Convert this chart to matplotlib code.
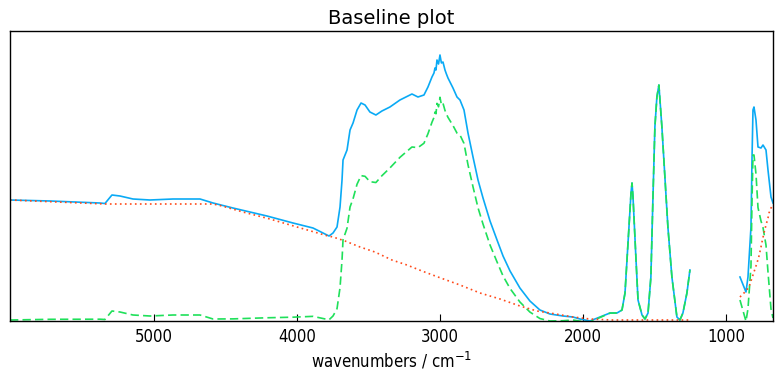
import numpy as np
import matplotlib
matplotlib.use("Agg")
import matplotlib.pyplot as plt

# Spectrum (absorbance, arbitrary units); NaN marks the gap
wn_spectrum = [6007, 5727, 5378, 5343, 5294, 5238, 5147, 5028, 4867, 4678, 4587, 4448, 4210, 4028, 3888,
               3776, 3748, 3720, 3699, 3685, 3678, 3664, 3650, 3629, 3608, 3580, 3552, 3524, 3490, 3448,
               3406, 3350, 3280, 3196, 3154, 3112, 3084, 3056, 3042, 3035, 3028, 3021, 3010, 3000, 2990,
               2979, 2965, 2955, 2944, 2930, 2909,
               2881, 2860, 2832, 2804, 2769, 2734, 2699, 2650, 2601, 2559, 2510, 2441, 2371, 2301, 2231,
               2140, 2070, 2021, 1951, 1881, 1811, 1762, 1727, 1706, 1685, 1664, 1657, 1650, 1629, 1615,
               1587, 1566, 1545, 1525, 1511, 1497, 1483, 1469, 1448, 1427, 1406, 1378, 1343, 1322, 1301,
               1273, 1252, 1100,
               902, 860, 846, 825, 818, 811, 804, 790, 776, 755, 741, 720, 706, 685, 671]
absorbance = [1.20, 1.19, 1.17, 1.165, 1.25, 1.24, 1.21, 1.20, 1.21, 1.21, 1.17, 1.12, 1.04, 0.97, 0.92,
              0.84, 0.87, 0.93, 1.13, 1.40, 1.60, 1.65, 1.70, 1.90, 1.97, 2.10, 2.17, 2.15, 2.08, 2.05,
              2.09, 2.13, 2.20, 2.26, 2.23, 2.25, 2.33, 2.43, 2.47, 2.52, 2.50, 2.60, 2.56, 2.65, 2.57,
              2.58, 2.50, 2.46, 2.42, 2.38, 2.32,
              2.23, 2.20, 2.10, 1.87, 1.63, 1.40, 1.22, 0.99, 0.80, 0.64, 0.49, 0.32, 0.19, 0.10, 0.06,
              0.04, 0.03, 0.01, -0.01, 0.03, 0.07, 0.07, 0.10, 0.27, 0.77, 1.27, 1.37, 1.23, 0.60, 0.20,
              0.05, 0.01, 0.07, 0.43, 1.20, 1.93, 2.23, 2.35, 1.93, 1.43, 0.93, 0.43, 0.03, 0.00, 0.07,
              0.27, 0.50, np.nan,
              0.43, 0.28, 0.43, 0.93, 1.60, 2.10, 2.13, 2.00, 1.73, 1.72, 1.75, 1.70, 1.50, 1.23, 1.17]

# Fitted baseline
wn_baseline = [6007, 5343, 4587, 4524, 4378, 4189, 4000, 3783, 3748, 3664, 3559, 3455, 3336, 3231, 3126,
               3014, 2860, 2720, 2580, 2441, 2322, 2231, 2070, 1951, 1800, 1500, 1252, 1100,
               902, 867, 839, 818, 804, 783, 769, 755, 748, 734, 720, 706, 699, 685, 671]
baseline = [1.20, 1.16, 1.16, 1.14, 1.08, 1.01, 0.93, 0.84, 0.83, 0.79, 0.73, 0.68, 0.60, 0.55, 0.49,
            0.43, 0.35, 0.27, 0.21, 0.14, 0.09, 0.07, 0.03, 0.01, 0.0, 0.0, 0.0, np.nan,
            0.23, 0.28, 0.33, 0.42, 0.48, 0.57, 0.64, 0.73, 0.78, 0.87, 0.95, 1.02, 1.07, 1.12, 1.15]

wn_s = np.array(wn_spectrum, dtype=float)
a_s = np.array(absorbance, dtype=float)
wn_b = np.array(wn_baseline, dtype=float)
a_b = np.array(baseline, dtype=float)

# baseline evaluated at spectrum points, corrected = spectrum - baseline
b_at_s = np.interp(wn_s[::-1], wn_b[::-1], np.nan_to_num(a_b[::-1], nan=0.0))[::-1]
corrected = a_s - b_at_s

fig = plt.figure(figsize=(7.84, 3.83), dpi=100)
ax = fig.add_axes([10 / 784, 1 - 321 / 383, 763 / 784, 290 / 383])

ax.plot(wn_s, a_s, color="#0aaaf5", lw=1.2, ls="-")
ax.plot(wn_s, corrected, color="#1fe05a", lw=1.2, ls=(0, (5, 2.5)))
ax.plot(wn_b, a_b, color="#ff4a1a", lw=1.2, ls=(0, (1, 2)))

ax.set_xlim(6007, 671)
ax.set_ylim(-0.01, 2.89)
ax.set_xticks([5000, 4000, 3000, 2000, 1000])
ax.set_yticks([])
ax.tick_params(axis="x", direction="in", length=5, pad=5)
for lab in ax.get_xticklabels():
    lab.set_fontsize(12)
    lab.set_fontstretch("condensed")
for s in ax.spines.values():
    s.set_linewidth(1.0)
ax.set_xlabel("wavenumbers / cm$^{-1}$", fontsize=12, fontstretch="condensed", labelpad=3)
ax.set_title("Baseline plot", fontsize=14, pad=5)

fig.savefig("out.png", dpi=100)
